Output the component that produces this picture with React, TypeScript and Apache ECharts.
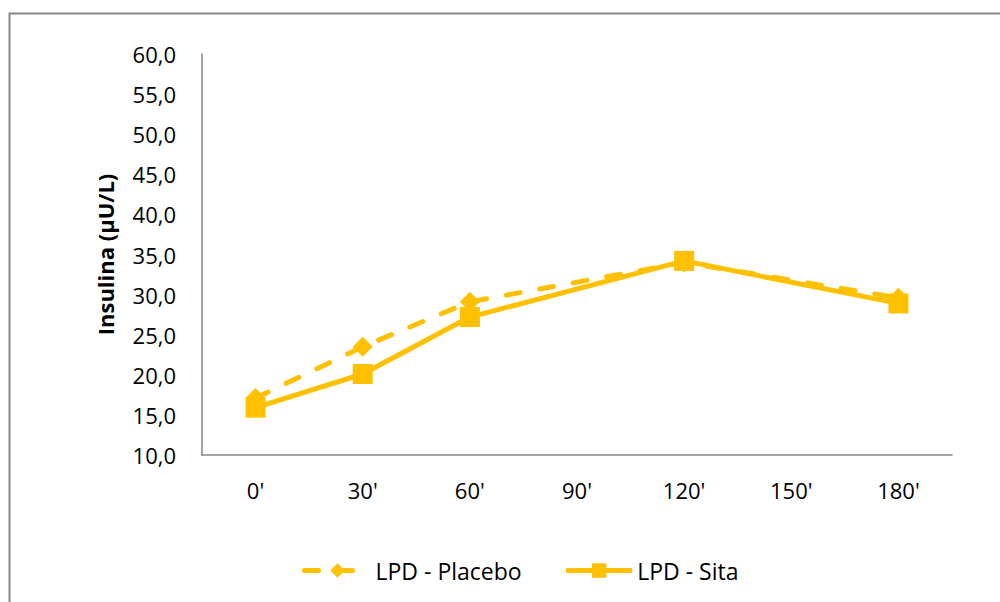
import React, { useEffect, useRef } from "react";
import * as echarts from "echarts";

const categories = ["0'", "30'", "60'", "90'", "120'", "150'", "180'"];
const placebo: (number | null)[] = [17.1, 23.5, 29.1, null, 34.0, null, 29.6];
const sita: (number | null)[] = [15.9, 20.1, 27.2, null, 34.2, null, 28.9];
const seriesNames = ["LPD - Placebo", "LPD - Sita"];
const yAxisTitle = "Insulina (µU/L)";

const COLOR = "#FFC000";
const FONT = "Open Sans";
const FS = 22;

export default function App() {
  const ref = useRef<HTMLDivElement>(null);
  useEffect(() => {
    if (!ref.current) return;
    const chart = echarts.init(ref.current, undefined, { renderer: "svg" });
    chart.setOption({
      animation: false,
      backgroundColor: "#fff",
      textStyle: { fontFamily: FONT },
      graphic: [
        {
          type: "rect",
          shape: { x: 9.5, y: 13.5, width: 1010, height: 620 },
          style: { fill: "none", stroke: "#878787", lineWidth: 2 },
          silent: true,
        },
      ],
      grid: { left: 202, top: 54, right: 48, bottom: 147 },
      legend: {
        bottom: 15,
        left: 297,
        itemWidth: 66,
        itemHeight: 18,
        itemGap: 42,
        textStyle: { fontFamily: FONT, fontSize: 23, color: "#000" },
        lineStyle: { width: 5 },
        data: seriesNames,
      },
      xAxis: {
        type: "category",
        data: categories,
        boundaryGap: true,
        axisLine: { lineStyle: { color: "#868686", width: 1.5 } },
        axisTick: { show: false },
        axisLabel: { color: "#000", fontSize: FS, fontFamily: FONT, margin: 24 },
      },
      yAxis: {
        type: "value",
        min: 10,
        max: 60,
        interval: 5,
        name: yAxisTitle,
        nameLocation: "middle",
        nameGap: 86,
        nameRotate: 90,
        nameTextStyle: { color: "#000", fontSize: FS, fontWeight: "bold", fontFamily: FONT },
        axisLine: { show: true, lineStyle: { color: "#868686", width: 1.5 } },
        axisTick: { show: false },
        splitLine: { show: false },
        axisLabel: {
          color: "#000",
          fontSize: FS,
          fontFamily: FONT,
          margin: 26,
          formatter: (v: number) => v.toFixed(1).replace(".", ","),
        },
      },
      series: [
        {
          name: seriesNames[0],
          type: "line",
          data: placebo,
          connectNulls: true,
          symbol: "diamond",
          symbolSize: 20,
          lineStyle: { color: COLOR, width: 5, type: [14, 20], cap: "round" },
          itemStyle: { color: COLOR },
          z: 2,
        },
        {
          name: seriesNames[1],
          type: "line",
          data: sita,
          connectNulls: true,
          symbol: "rect",
          symbolSize: 20,
          lineStyle: { color: COLOR, width: 5 },
          itemStyle: { color: COLOR },
          z: 3,
        },
      ],
    });
    return () => chart.dispose();
  }, []);
  return <div ref={ref} style={{ width: 1000, height: 602, position: "absolute", left: 0, top: 0 }} />;
}
